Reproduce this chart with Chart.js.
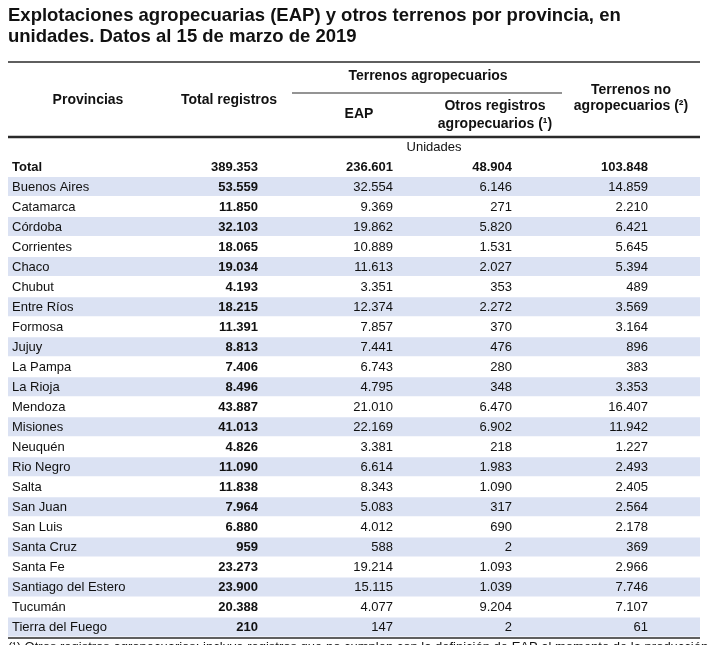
<!DOCTYPE html>
<html>
<head>
<meta charset="utf-8">
<script src="https://cdn.jsdelivr.net/npm/chart.js@4.4.1/dist/chart.umd.min.js"></script>
<style>
  body { margin: 0; background: #fff; }
  canvas { display: block; }
</style>
</head>
<body>
<canvas id="tabla" width="709" height="645"></canvas>
<script>
//  Datos (unidades)

const provincias = ['Total', 'Buenos Aires', 'Catamarca', 'Córdoba', 'Corrientes', 'Chaco', 'Chubut',
    'Entre Ríos', 'Formosa', 'Jujuy', 'La Pampa', 'La Rioja', 'Mendoza', 'Misiones', 'Neuquén',
    'Rio Negro', 'Salta', 'San Juan', 'San Luis', 'Santa Cruz', 'Santa Fe', 'Santiago del Estero',
    'Tucumán', 'Tierra del Fuego']
const totalRegistros = [389353, 53559, 11850, 32103, 18065, 19034, 4193, 18215, 11391, 8813, 7406,
    8496, 43887, 41013, 4826, 11090, 11838, 7964, 6880, 959, 23273, 23900, 20388, 210]
const eap = [236601, 32554, 9369, 19862, 10889, 11613, 3351, 12374, 7857, 7441, 6743, 4795,
    21010, 22169, 3381, 6614, 8343, 5083, 4012, 588, 19214, 15115, 4077, 147]
const otrosRegistros = [48904, 6146, 271, 5820, 1531, 2027, 353, 2272, 370, 476, 280, 348,
    6470, 6902, 218, 1983, 1090, 317, 690, 2, 1093, 1039, 9204, 2]
const terrenosNoAgro = [103848, 14859, 2210, 6421, 5645, 5394, 489, 3569, 3164, 896, 383, 3353,
    16407, 11942, 1227, 2493, 2405, 2564, 2178, 369, 2966, 7746, 7107, 61]

const titulo = ['Explotaciones agropecuarias (EAP) y otros terrenos por provincia, en',
    'unidades. Datos al 15 de marzo de 2019']
const nota = '(¹) Otros registros agropecuarios: incluye registros que no cumplen con la definición de EAP al momento de la producción'


//  Estilos

const FONT = '"Liberation Sans", Arial, sans-serif'
const INK = '#111'
const STRIPE = '#dbe2f3'
const RULE = '#2a2a2a'

// columnas numericas: borde derecho (px)
const colRight = [258, 393, 512, 648]
const colData = [totalRegistros, eap, otrosRegistros, terrenosNoAgro]

// encabezado: [texto, x centro, y centro, negrita]
const header = [
    ['Provincias', 88, 100, true],
    ['Total registros', 229, 100, true],
    ['Terrenos agropecuarios', 428, 76, true],
    ['EAP', 359, 114, true],
    ['Otros registros', 495, 106, true],
    ['agropecuarios (¹)', 495, 124, true],
    ['Terrenos no', 631, 90, true],
    ['agropecuarios (²)', 631, 106, true],
    ['Unidades', 434, 147, false]
]

var fmt = function(n){
    return String(n).replace(/\B(?=(\d{3})+(?!\d))/g, '.')
}

// franjas en filas impares
const franjas = provincias.map((p, i) => i % 2 === 1 ? [0, 1] : null)

const tablaPlugin = {
    id: 'tabla',
    afterDatasetsDraw(chart) {
        const ctx = chart.ctx
        const area = chart.chartArea
        const yScale = chart.scales.y
        ctx.save()

        // reglas
        ctx.strokeStyle = RULE
        ctx.lineWidth = 1.5
        ctx.beginPath(); ctx.moveTo(area.left, 62); ctx.lineTo(area.right, 62); ctx.stroke()
        ctx.lineWidth = 1.2
        ctx.beginPath(); ctx.moveTo(292, 93); ctx.lineTo(562, 93); ctx.stroke()
        ctx.lineWidth = 2.6
        ctx.beginPath(); ctx.moveTo(area.left, 137); ctx.lineTo(area.right, 137); ctx.stroke()
        ctx.lineWidth = 1.5
        ctx.beginPath(); ctx.moveTo(area.left, area.bottom + 1); ctx.lineTo(area.right, area.bottom + 1); ctx.stroke()

        // encabezado
        ctx.fillStyle = INK
        ctx.textBaseline = 'middle'
        ctx.textAlign = 'center'
        header.forEach(h => {
            ctx.font = h[3] ? 'bold 14px ' + FONT : '13px ' + FONT
            ctx.fillText(h[0], h[1], h[2])
        })

        // celdas
        provincias.forEach((prov, i) => {
            const yy = Math.round(yScale.getPixelForValue(i))
            ctx.textAlign = 'left'
            ctx.font = i === 0 ? 'bold 13px ' + FONT : '13px ' + FONT
            ctx.fillText(prov, area.left + 4, yy)
            ctx.textAlign = 'right'
            colData.forEach((serie, c) => {
                ctx.font = (i === 0 || c === 0) ? 'bold 13px ' + FONT : '13px ' + FONT
                ctx.fillText(fmt(serie[i]), colRight[c], yy)
            })
        })

        // nota al pie (cortada por el borde)
        ctx.textAlign = 'left'
        ctx.textBaseline = 'top'
        ctx.font = '13px ' + FONT
        ctx.fillText(nota, area.left, area.bottom + 4)
        ctx.restore()
    }
}

const config = {
    type: 'bar',
    data: {
        labels: provincias,
        datasets: [{
            data: franjas,
            backgroundColor: STRIPE,
            borderWidth: 0,
            barPercentage: 0.95,
            categoryPercentage: 1
        }]
    },
    options: {
        indexAxis: 'y',
        responsive: false,
        animation: false,
        layout: { padding: { left: 8, right: 9, top: 0, bottom: 8 } },
        scales: {
            x: { type: 'linear', min: 0, max: 1, display: false },
            y: { type: 'category', display: false }
        },
        plugins: {
            legend: { display: false },
            tooltip: { enabled: false },
            title: {
                display: true,
                text: titulo,
                align: 'start',
                color: INK,
                font: { family: FONT, size: 18.5, weight: 'bold', lineHeight: 1.135 },
                padding: { top: 5.5, bottom: 109 }
            }
        }
    },
    plugins: [tablaPlugin]
}

const myChart = new Chart(document.querySelector('#tabla').getContext('2d'), config)
</script>
</body>
</html>
